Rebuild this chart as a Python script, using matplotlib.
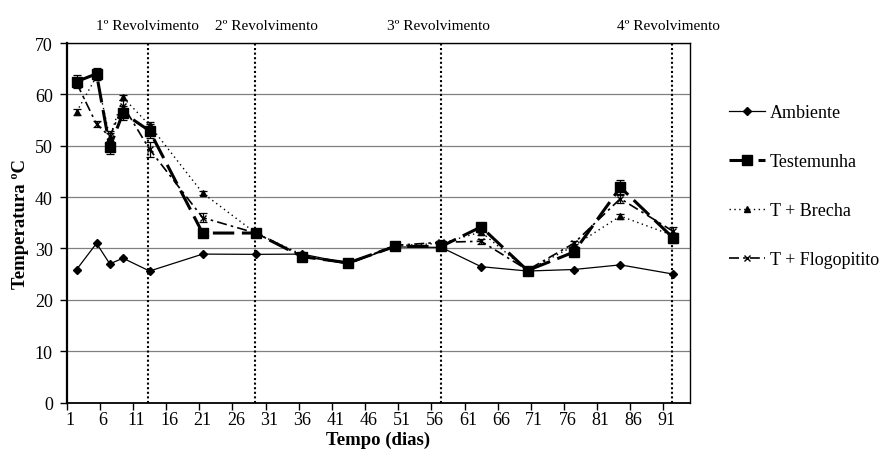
import numpy as np
import matplotlib
matplotlib.use("Agg")
import matplotlib.pyplot as plt

# dados (dias e temperatura em ºC)
dias = [2, 5, 7, 9, 13, 21, 29, 36, 43, 50, 57, 63, 70, 77, 84, 92]
ambiente = [25.9, 31.0, 27.0, 28.1, 25.6, 28.9, 28.85, 28.9, 27.1, 30.3, 30.2, 26.45, 25.6, 25.9, 26.8, 25.0]
testemunha = [62.5, 64.0, 49.7, 56.4, 52.9, 33.0, 33.0, 28.4, 27.2, 30.4, 30.4, 34.2, 25.7, 29.3, 41.9, 32.0]
brecha = [56.6, 63.5, 51.6, 59.4, 54.0, 40.8, 33.0, 28.8, 27.0, 30.5, 31.0, 33.2, 25.7, 30.5, 36.3, 32.5]
flogopitito = [62.2, 54.2, 51.8, 57.8, 49.3, 36.0, 33.0, 28.5, 27.0, 30.6, 31.2, 31.4, 25.8, 31.0, 39.7, 33.3]

# desvios (barras de erro)
err_testemunha = [1.2, 1.2, 1.3, 1.3, 1.3, 0.4, 0.4, 0.4, 0.3, 0.4, 0.4, 0.6, 0.3, 0.5, 1.4, 1.0]
err_brecha = [0.6, 0.6, 0.8, 0.5, 0.6, 0.4, 0.3, 0.3, 0.3, 0.3, 0.3, 0.5, 0.3, 0.4, 0.5, 0.6]
err_flogopitito = [0.8, 0.6, 1.0, 1.2, 1.5, 0.9, 0.4, 0.4, 0.3, 0.4, 0.4, 0.5, 0.3, 0.5, 0.9, 0.9]

revolvimentos = [12.7, 28.9, 56.9, 91.8]
rotulos_rev = ["1º Revolvimento", "2º Revolvimento", "3º Revolvimento", "4º Revolvimento"]
pos_rotulos = [12.7, 30.6, 56.6, 91.2]

xticks = list(range(1, 92, 5))

plt.rcParams['font.family'] = ['Liberation Serif', 'DejaVu Serif']

fig = plt.figure(figsize=(8.82, 4.6), dpi=100)
ax = fig.add_axes([0.0756, 0.1228, 0.7067, 0.7815])

# linhas verticais dos revolvimentos
for xr in revolvimentos:
    ax.axvline(xr, color='black', linestyle=(0, (1, 1.2)), linewidth=1.5, zorder=1)

# barras de erro (sem linha)
for serie, err in [(testemunha, err_testemunha), (brecha, err_brecha), (flogopitito, err_flogopitito)]:
    ax.errorbar(dias, serie, yerr=err, fmt='none', ecolor='black', elinewidth=0.9,
                capsize=3, capthick=0.9, zorder=2)

l_test, = ax.plot(dias, testemunha, color='black', linestyle=(0, (7, 2.5)), linewidth=2.2,
                  marker='s', markersize=7, label='Testemunha', zorder=4)
l_brecha, = ax.plot(dias, brecha, color='black', linestyle=(0, (1, 2.5)), linewidth=1.0,
                    marker='^', markersize=5, label='T + Brecha', zorder=3)
l_flogo, = ax.plot(dias, flogopitito, color='black', linestyle=(0, (6, 2.5, 1.5, 2.5)), linewidth=1.2,
                   marker='x', markersize=5, markeredgewidth=1.0, label='T + Flogopitito', zorder=3)
l_amb, = ax.plot(dias, ambiente, color='black', linewidth=0.9, marker='D', markersize=4,
                 label='Ambiente', zorder=5)

ax.set_xlim(0.5, 94.5)
ax.set_ylim(0, 70)
ax.set_yticks(range(0, 71, 10))
ax.yaxis.grid(True, color='#808080', linewidth=0.9)
ax.set_axisbelow(True)

ax.set_xticks(xticks)
ax.set_xticks([x - 0.5 for x in xticks], minor=True)
ax.tick_params(axis='x', which='major', length=0, pad=6, labelsize=13)
ax.tick_params(axis='x', which='minor', length=5, width=1.0, direction='out')
ax.tick_params(axis='y', length=5, width=1.0, direction='out', pad=5, labelsize=13)

for s in ['left', 'bottom', 'top', 'right']:
    ax.spines[s].set_color('black')
ax.spines['left'].set_linewidth(1.6)
ax.spines['bottom'].set_linewidth(1.3)
ax.spines['top'].set_linewidth(1.0)
ax.spines['right'].set_linewidth(1.0)

ax.set_xlabel('Tempo (dias)', fontsize=13.5, fontweight='bold', labelpad=2)
ax.set_ylabel('Temperatura ºC', fontsize=13.5, fontweight='bold', labelpad=4)

for xp, txt in zip(pos_rotulos, rotulos_rev):
    ax.text(xp, 72.1, txt, ha='center', va='bottom', fontsize=11)

fig.legend([l_amb, l_test, l_brecha, l_flogo],
           ['Ambiente', 'Testemunha', 'T + Brecha', 'T + Flogopitito'],
           loc='upper left', bbox_to_anchor=(0.827, 0.772), frameon=False,
           fontsize=13, handlelength=1.95, handletextpad=0.3, labelspacing=1.78,
           borderpad=0, borderaxespad=0)

fig.savefig('out.png', dpi=100)
